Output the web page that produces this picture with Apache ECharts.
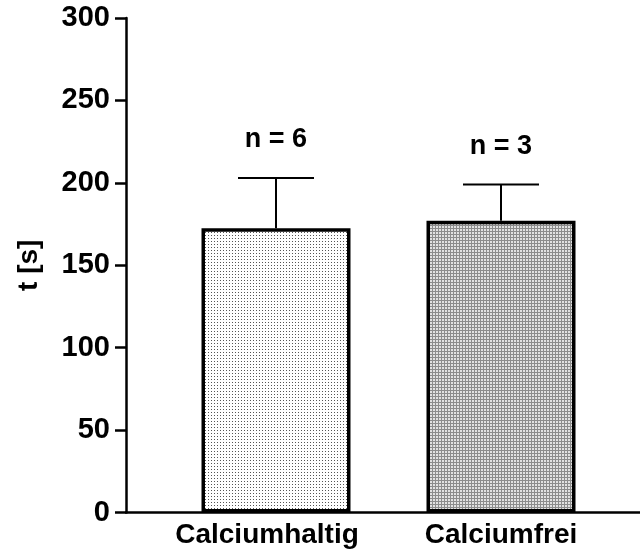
<!DOCTYPE html>
<html>
<head>
<meta charset="utf-8">
<script src="https://cdn.jsdelivr.net/npm/echarts@6/dist/echarts.min.js"></script>
<style>
  html, body { margin: 0; padding: 0; background: #fff; }
  #chart { width: 640px; height: 558px; }
</style>
</head>
<body>
<div id="chart"></div>
<script>
const categories = ['Calciumhaltig', 'Calciumfrei'];
const slots = [2, 5]; // where each group sits on the (hidden) value x axis
const means = [172.5, 177];
const errUpper = [203, 199];
const nLabels = ['n = 6', 'n = 3'];

const font = '"Liberation Sans", Arial, sans-serif';

function makePattern(draw) {
  const c = document.createElement('canvas');
  c.width = 3;
  c.height = 3;
  draw(c.getContext('2d'));
  return { image: c, repeat: 'repeat' };
}

// fine dots on white
const dotFill = makePattern(ctx => {
  ctx.fillStyle = '#ffffff';
  ctx.fillRect(0, 0, 3, 3);
  ctx.fillStyle = '#555555';
  ctx.fillRect(1, 1, 1, 1);
});

// grey cross-hatch
const gridFill = makePattern(ctx => {
  ctx.fillStyle = '#8c8c8c';
  ctx.fillRect(0, 0, 3, 3);
  ctx.fillStyle = '#e2e2e2';
  ctx.fillRect(1, 1, 2, 2);
});

const fills = [dotFill, gridFill];

const chart = echarts.init(document.getElementById('chart'));

chart.setOption({
  animation: false,
  grid: { left: 126, right: 0, top: 18, bottom: 45.5, outerBoundsMode: 'none' },
  xAxis: {
    type: 'value',
    min: 0,
    max: 514 / 75,
    interval: 1,
    splitLine: { show: false },
    axisTick: { show: false },
    axisLine: { lineStyle: { color: '#000', width: 2.5 } },
    axisLabel: {
      margin: 9,
      showMaxLabel: false,
      color: '#000',
      fontFamily: font,
      fontWeight: 'bold',
      fontSize: 28,
      formatter: v => {
        const i = slots.indexOf(v);
        if (i < 0) return '';
        return i === 0 ? '{first|' + categories[i] + '}' : categories[i];
      },
      rich: {
        first: { fontFamily: font, fontWeight: 'bold', fontSize: 28, color: '#000', padding: [0, 18, 0, 0] }
      }
    }
  },
  yAxis: {
    type: 'value',
    min: 0,
    max: 300,
    interval: 50,
    name: 't [s]',
    nameLocation: 'middle',
    nameGap: 83,
    nameTextStyle: { color: '#000', fontFamily: font, fontWeight: 'bold', fontSize: 28 },
    splitLine: { show: false },
    axisLine: { show: true, lineStyle: { color: '#000', width: 2.5 } },
    axisTick: { show: true, length: 11, lineStyle: { color: '#000', width: 2.5 } },
    axisLabel: { margin: 16, color: '#000', fontFamily: font, fontWeight: 'bold', fontSize: 29 }
  },
  series: [
    {
      type: 'bar',
      barWidth: 149,
      data: slots.map((x, i) => ({ value: [x, means[i]], itemStyle: { color: fills[i] } })),
      itemStyle: { borderColor: '#000', borderWidth: 3.5 }
    },
    {
      type: 'custom',
      z: 3,
      data: slots.map((x, i) => [x, means[i], errUpper[i], i]),
      encode: { x: 0, y: [1, 2] },
      renderItem: (params, api) => {
        const base = api.coord([api.value(0), api.value(1)]);
        const top = api.coord([api.value(0), api.value(2)]);
        const lineStyle = { stroke: '#000', lineWidth: 2 };
        return {
          type: 'group',
          children: [
            { type: 'line', shape: { x1: base[0], y1: base[1], x2: top[0], y2: top[1] }, style: lineStyle },
            { type: 'line', shape: { x1: top[0] - 38, y1: top[1], x2: top[0] + 38, y2: top[1] }, style: lineStyle },
            {
              type: 'text',
              x: top[0],
              y: top[1] - 38,
              style: {
                text: nLabels[api.value(3)],
                fill: '#000',
                font: 'bold 27px ' + font,
                align: 'center',
                verticalAlign: 'middle'
              }
            }
          ]
        };
      }
    }
  ]
});
</script>
</body>
</html>
